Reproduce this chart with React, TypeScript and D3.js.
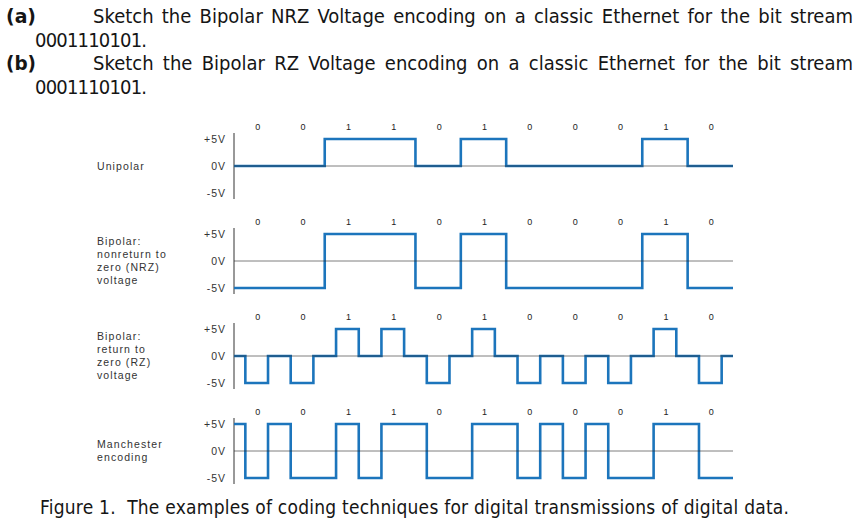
import { useEffect, useRef } from 'react'
import * as d3 from 'd3'

// bit stream shown above every row
const bits = ['0', '0', '1', '1', '0', '1', '0', '0', '0', '1', '0']
const voltTicks = [5, 0, -5]
const voltLabels = ['+5V', '0V', '-5V']

// signal level per quarter of a bit (4 values per bit)
const unipolarLevels = [
  0, 0, 0, 0, 0, 0, 0, 0, 5, 5, 5, 5, 5, 5, 5, 5, 0, 0, 0, 0, 5, 5, 5, 5,
  0, 0, 0, 0, 0, 0, 0, 0, 0, 0, 0, 0, 5, 5, 5, 5, 0, 0, 0, 0,
]
const nrzLevels = [
  -5, -5, -5, -5, -5, -5, -5, -5, 5, 5, 5, 5, 5, 5, 5, 5, -5, -5, -5, -5, 5, 5, 5, 5,
  -5, -5, -5, -5, -5, -5, -5, -5, -5, -5, -5, -5, 5, 5, 5, 5, -5, -5, -5, -5,
]
const rzLevels = [
  0, -5, -5, 0, 0, -5, -5, 0, 0, 5, 5, 0, 0, 5, 5, 0, 0, -5, -5, 0, 0, 5, 5, 0,
  0, -5, -5, 0, 0, -5, -5, 0, 0, -5, -5, 0, 0, 5, 5, 0, 0, -5, -5, 0,
]
const manchesterLevels = [
  5, -5, -5, 5, 5, -5, -5, -5, -5, 5, 5, -5, -5, 5, 5, 5, 5, -5, -5, -5, -5, 5, 5, 5,
  5, -5, -5, 5, 5, -5, -5, 5, 5, -5, -5, -5, -5, 5, 5, 5, 5, -5, -5, -5,
]

const rowNames = [
  ['Unipolar'],
  ['Bipolar:', 'nonreturn to', 'zero (NRZ)', 'voltage'],
  ['Bipolar:', 'return to', 'zero (RZ)', 'voltage'],
  ['Manchester', 'encoding'],
]
const rowLevels = [unipolarLevels, nrzLevels, rzLevels, manchesterLevels]

const lineA = 'Sketch the Bipolar NRZ Voltage encoding on a classic Ethernet for the bit stream'
const lineB = 'Sketch the Bipolar RZ Voltage encoding on a classic Ethernet for the bit stream'
const streamText = '0001110101.'
const caption = 'Figure 1.  The examples of coding techniques for digital transmissions of digital data.'

const W = 864
const H = 527
const blue = '#1c75bc'
const docFont = '"DejaVu Sans Condensed", "DejaVu Sans", sans-serif'
const figFont = '"Liberation Sans", Arial, sans-serif'

export default function App() {
  const ref = useRef<SVGSVGElement>(null)

  useEffect(() => {
    const svg = d3.select(ref.current)
    svg.selectAll('*').remove()

    // ---- question text ----
    const doc = svg.append('g').attr('font-family', docFont).attr('fill', '#151515')

    const justify = (text: string, x0: number, x1: number, y: number) => {
      const words = text.split(' ')
      const nodes = words.map(w => doc.append('text').attr('y', y).attr('font-size', 20).text(w))
      const widths = nodes.map(n => (n.node() as SVGTextElement).getComputedTextLength())
      const gap = (x1 - x0 - d3.sum(widths)) / (words.length - 1)
      let cx = x0
      nodes.forEach((n, i) => {
        n.attr('x', cx)
        cx += widths[i] + gap
      })
    }

    const heads = [
      { tag: '(a)', text: lineA, y: 22.5 },
      { tag: '(b)', text: lineB, y: 70 },
    ]
    heads.forEach(h => {
      doc.append('text').attr('x', 6).attr('y', h.y).attr('font-size', 20)
        .attr('font-weight', 'bold').attr('font-family', '"DejaVu Sans", sans-serif')
        .attr('textLength', 30).attr('lengthAdjust', 'spacingAndGlyphs').text(h.tag)
      justify(h.text, 93, 853, h.y)
      doc.append('text').attr('x', 35).attr('y', h.y + 24).attr('font-size', 20)
        .attr('textLength', 112).attr('lengthAdjust', 'spacing').text(streamText)
    })

    doc.append('text').attr('x', 40).attr('y', 514).attr('font-size', 19)
      .attr('textLength', 749).attr('lengthAdjust', 'spacing')
      .attr('xml:space', 'preserve').style('white-space', 'pre').text(caption)

    // ---- figure ----
    const x = d3.scaleLinear().domain([0, bits.length]).range([234, 733])

    rowLevels.forEach((levels, r) => {
      const top = 139 + r * 95
      const y = d3.scaleLinear().domain([-5, 5]).range([top + 54, top])
      const g = svg.append('g').attr('font-family', figFont)

      // row name
      const names = rowNames[r]
      g.selectAll('text.name')
        .data(names)
        .join('text')
        .attr('class', 'name')
        .attr('x', 97)
        .attr('y', (d, i) => y(0) + 3.8 + (i - (names.length - 1) / 2) * 13)
        .attr('font-size', 10.5)
        .attr('letter-spacing', 1.1)
        .attr('fill', '#333')
        .text(d => d)

      // voltage tick labels
      g.selectAll('text.tick')
        .data(voltTicks)
        .join('text')
        .attr('class', 'tick')
        .attr('x', 226)
        .attr('y', d => y(d) + 3.8)
        .attr('text-anchor', 'end')
        .attr('font-size', 10.5)
        .attr('letter-spacing', 1)
        .attr('fill', '#333')
        .text((d, i) => voltLabels[i])

      // bit labels
      g.selectAll('text.bit')
        .data(bits)
        .join('text')
        .attr('class', 'bit')
        .attr('x', (d, i) => x(i + 0.5) + 1)
        .attr('y', top - 9)
        .attr('text-anchor', 'middle')
        .attr('font-size', 9)
        .attr('fill', '#222')
        .text(d => d)

      // vertical axis
      g.append('line')
        .attr('x1', x(0)).attr('x2', x(0))
        .attr('y1', y(5) - 6).attr('y2', y(-5) + 6)
        .attr('stroke', '#333').attr('stroke-width', 1)

      // signal
      const pts: [number, number][] = levels.map((v, i) => [i / 4, v])
      pts.push([bits.length, levels[levels.length - 1]])
      const signal = d3.line<[number, number]>()
        .x(d => x(d[0]))
        .y(d => y(d[1]))
        .curve(d3.curveStepAfter)
      g.append('path')
        .attr('d', signal(pts))
        .attr('fill', 'none')
        .attr('stroke', blue)
        .attr('stroke-width', 2.6)

      // 0V reference line
      g.append('line')
        .attr('x1', x(0)).attr('x2', x(bits.length))
        .attr('y1', y(0)).attr('y2', y(0))
        .attr('stroke', 'rgba(40,40,40,0.6)').attr('stroke-width', 1)
    })
  }, [])

  return (
    <svg
      ref={ref}
      width={W}
      height={H}
      style={{ position: 'absolute', left: 0, top: 0, background: '#fff' }}
    />
  )
}
